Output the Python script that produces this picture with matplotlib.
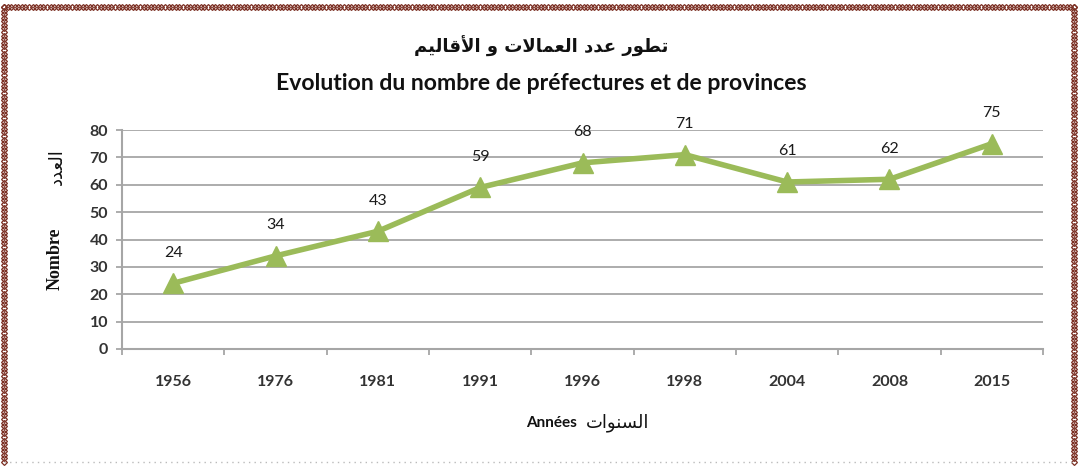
import matplotlib
matplotlib.use("Agg")
import matplotlib.pyplot as plt
from matplotlib.lines import Line2D
import numpy as np

years = ["1956", "1976", "1981", "1991", "1996", "1998", "2004", "2008", "2015"]
counts = [24, 34, 43, 59, 68, 71, 61, 62, 75]
yticks = [0, 10, 20, 30, 40, 50, 60, 70, 80]

# Arabic strings pre-shaped (presentation forms, visual order)
def vis(s):
    return s[::-1]

title_ar = vis("\uFE97\uFEC4\uFEEE\uFEAD \uFECB\uFEAA\uFEA9 \uFE8D\uFEDF\uFECC\uFEE4\uFE8E\uFEFB\uFE95 \uFEED \uFE8D\uFEF7\uFED7\uFE8E\uFEDF\uFEF4\uFEE2")
ylab_ar = vis("\uFE8D\uFEDF\uFECC\uFEAA\uFEA9")
xlab_ar = vis("\uFE8D\uFEDF\uFEB4\uFEE8\uFEEE\uFE8D\uFE95")
title_fr = "Evolution du nombre de préfectures et de provinces"

LAT = ["Lato", "DejaVu Sans"]
AR = ["DejaVu Sans"]

fig = plt.figure(figsize=(10.8, 4.66), dpi=100)
ax = fig.add_axes([122/1080, 1-349/466, (1043-122)/1080, (349-130)/466])

green = "#9bbb59"
grid_c = "#a6a6a6"
x = np.arange(len(years))
ax.plot(x, counts, color=green, lw=4, marker="^", markersize=15,
        markerfacecolor=green, markeredgecolor=green, zorder=3, clip_on=False)
for xi, v in zip(x, counts):
    ax.annotate(str(v), (xi, v), xytext=(0, 17), textcoords="offset points",
                ha="center", va="bottom", fontsize=11.5, color="#1a1a1a", family=LAT)

ax.set_xlim(-0.5, len(years) - 0.5)
ax.set_ylim(0, 80)
ax.set_yticks(yticks)
ax.set_yticklabels([str(t) for t in yticks], family=LAT, fontsize=11.5,
                   fontweight="bold", color="#333333")
ax.set_xticks(x)
ax.set_xticklabels(years, family=LAT, fontsize=11.5, fontweight="bold", color="#333333")
ax.set_xticks(np.arange(-0.5, len(years), 1), minor=True)
ax.tick_params(axis="x", which="major", length=0, pad=19)
ax.tick_params(axis="x", which="minor", length=4, color=grid_c, width=1.3)
ax.tick_params(axis="y", length=4, color=grid_c, width=1.3, pad=6)
ax.grid(axis="y", color=grid_c, lw=1.3)
ax.set_axisbelow(True)
for s in ["top", "right"]:
    ax.spines[s].set_visible(False)
for s in ["left", "bottom"]:
    ax.spines[s].set_color(grid_c)
    ax.spines[s].set_linewidth(1.5)

# titles
fig.text(541/1080, 1-46/466, title_ar, ha="center", va="center", fontsize=13,
         fontweight="bold", family=AR, color="#111111")
fig.text(541/1080, 1-84/466, title_fr, ha="center", va="center", fontsize=16.6,
         fontweight="bold", family=LAT, color="#111111")

# axis labels
fig.text(55/1080, 1-259/466, "Nombre", rotation=90, ha="center", va="center",
         fontsize=13, fontweight="bold", family=["Liberation Serif"], color="#111111")
fig.text(57/1080, 1-167/466, ylab_ar, rotation=90, ha="center", va="center",
         fontsize=13, family=AR, color="#111111")
fig.text(552/1080, 1-423/466, "Années", ha="center", va="center",
         fontsize=11, fontweight="bold", family=LAT, color="#111111")
fig.text(618/1080, 1-423/466, xlab_ar, ha="center", va="center",
         fontsize=13, family=AR, color="#111111")

# decorative border
brown = "#7a2e22"
def border(xs, ys, n):
    xx = np.linspace(xs[0], xs[1], n)
    yy = np.linspace(ys[0], ys[1], n)
    fig.add_artist(Line2D(xx, yy, transform=fig.transFigure, ls="none", marker="D",
                          markersize=3, markerfacecolor="none", markeredgecolor=brown,
                          markeredgewidth=0.9))
top = 1-7/466
bot = 1-462/466
lx = 4/1080
rx = 1074/1080
border((lx, rx), (top, top), 300)
border((lx, lx), (top, bot), 128)
border((rx, rx), (top, bot), 128)
fig.add_artist(Line2D([lx, rx], [bot, bot], transform=fig.transFigure,
                      ls=(0, (1, 3)), color="#bbbbbb", lw=1))

fig.savefig("out.png", dpi=100)
